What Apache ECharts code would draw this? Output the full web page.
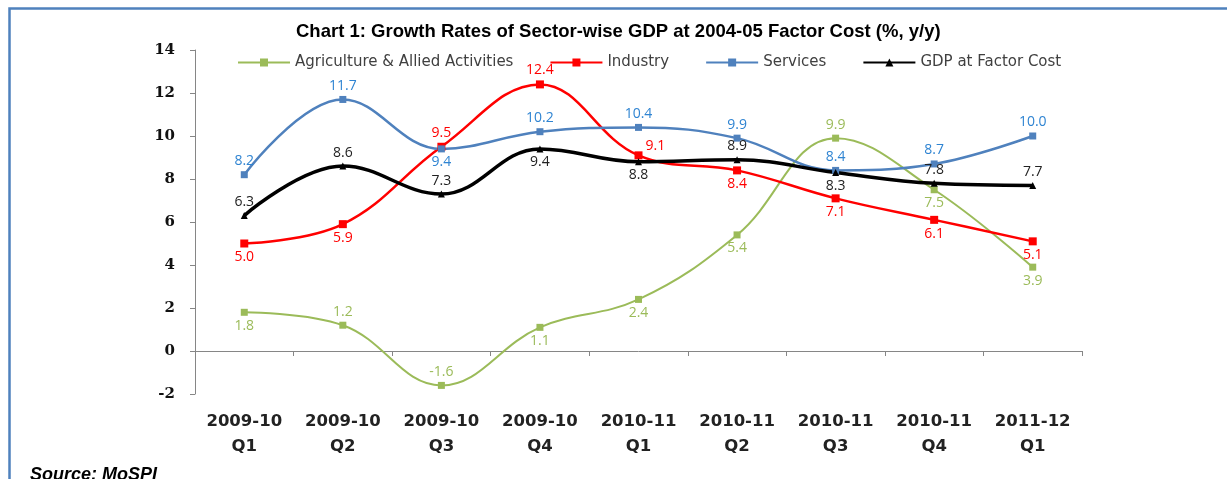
<!DOCTYPE html>
<html>
<head>
<meta charset="utf-8">
<script src="https://cdn.jsdelivr.net/npm/echarts@6/dist/echarts.min.js"></script>
<style>
html,body{margin:0;padding:0;background:#fff;}
#chart{width:1227px;height:479px;}
</style>
</head>
<body>
<div id="chart"></div>
<script>
const categories = ['2009-10\nQ1','2009-10\nQ2','2009-10\nQ3','2009-10\nQ4','2010-11\nQ1','2010-11\nQ2','2010-11\nQ3','2010-11\nQ4','2011-12\nQ1'];
const agriculture = [1.8, 1.2, -1.6, 1.1, 2.4, 5.4, 9.9, 7.5, 3.9];
const industry = [5.0, 5.9, 9.5, 12.4, 9.1, 8.4, 7.1, 6.1, 5.1];
const services = [8.2, 11.7, 9.4, 10.2, 10.4, 9.9, 8.4, 8.7, 10.0];
const gdp = [6.3, 8.6, 7.3, 9.4, 8.8, 8.9, 8.3, 7.8, 7.7];
const yTicks = [-2, 0, 2, 4, 6, 8, 10, 12, 14];

// label placement per point (styling only)
const agPos = ['bottom','top','top','bottom','bottom','bottom','top','bottom','bottom'];
const indPos = ['bottom','bottom','top','top','topRight','bottom','bottom','bottom','bottom'];
const svcPos = ['top','top','bottom','top','top','top','top','top','top'];
const gdpPos = ['top','top','top','bottom','bottom','top','bottom','top','top'];

function withLabels(values, pos) {
  return values.map((v, i) => {
    const p = pos[i];
    if (p === 'topRight') {
      return { value: v, label: { position: 'right', offset: [0, -9] } };
    }
    return { value: v, label: { position: p } };
  });
}

const labelFont = { fontFamily: 'Open Sans', fontSize: 14 };

function mkSeries(name, values, pos, color, labelColor, width, symbol, size) {
  return {
    name: name,
    type: 'line',
    xAxisIndex: 0,
    smooth: 0.4,
    symbol: symbol,
    symbolSize: size,
    showAllSymbol: true,
    lineStyle: { color: color, width: width },
    itemStyle: { color: color },
    label: Object.assign({ show: true, color: labelColor, distance: 3,
      formatter: p => Number(p.value).toFixed(1) }, labelFont),
    emphasis: { disabled: true },
    data: withLabels(values, pos),
    z: 3
  };
}

const chart = echarts.init(document.getElementById('chart'), null, { renderer: 'canvas' });
chart.setOption({
  animation: false,
  backgroundColor: '#ffffff',
  title: {
    text: 'Chart 1: Growth Rates of Sector-wise GDP at 2004-05 Factor Cost (%, y/y)',
    left: 291, top: 17,
    textStyle: { fontFamily: 'Liberation Sans', fontWeight: 'bold', fontSize: 18.5, color: '#000' }
  },
  legend: {
    left: 232, top: 50,
    itemWidth: 52, itemHeight: 10, itemGap: 36,
    textStyle: { fontFamily: 'DejaVu Sans', fontSize: 15, color: '#404040' },
    data: ['Agriculture & Allied Activities', 'Industry', 'Services', 'GDP at Factor Cost']
  },
  grid: { left: 195, right: 145, top: 50, bottom: 85, containLabel: false },
  xAxis: [
    {
      type: 'category', data: categories, boundaryGap: true,
      axisLine: { onZero: true, lineStyle: { color: '#868686', width: 1 } },
      axisTick: { show: true, inside: false, length: 5, lineStyle: { color: '#868686' } },
      axisLabel: { show: false },
      splitLine: { show: false }
    },
    {
      type: 'category', data: categories, position: 'bottom', boundaryGap: true,
      axisLine: { show: false }, axisTick: { show: false },
      axisLabel: { show: true, margin: 15, fontFamily: 'DejaVu Sans', fontWeight: 'bold', fontSize: 16.5, color: '#222', lineHeight: 25 },
      splitLine: { show: false }
    }
  ],
  yAxis: {
    type: 'value', min: yTicks[0], max: yTicks[yTicks.length-1], interval: 2,
    axisLine: { show: true, lineStyle: { color: '#868686', width: 1 } },
    axisTick: { show: true, length: 5, lineStyle: { color: '#868686' } },
    axisLabel: { margin: 20, fontFamily: 'DejaVu Serif', fontWeight: 'bold', fontSize: 15, color: '#111' },
    splitLine: { show: false }
  },
  series: [
    mkSeries('Agriculture & Allied Activities', agriculture, agPos, '#9BBB59', '#9BBB59', 2, 'rect', 7),
    mkSeries('Industry', industry, indPos, '#FF0000', '#FF0000', 2.5, 'rect', 8),
    mkSeries('Services', services, svcPos, '#4F81BD', '#2F84D2', 2.5, 'rect', 7),
    mkSeries('GDP at Factor Cost', gdp, gdpPos, '#000000', '#222222', 3.5, 'triangle', 7)
  ],
  graphic: [
    { type: 'rect', left: 7, top: 6, shape: { width: 1260, height: 520 }, style: { fill: 'none', stroke: '#4F81BD', lineWidth: 2.5 }, silent: true },
    { type: 'text', left: 30, top: 466, style: { text: 'Source: MoSPI', font: 'italic bold 18px "Liberation Sans"', fill: '#000' } }
  ]
});
</script>
</body>
</html>
